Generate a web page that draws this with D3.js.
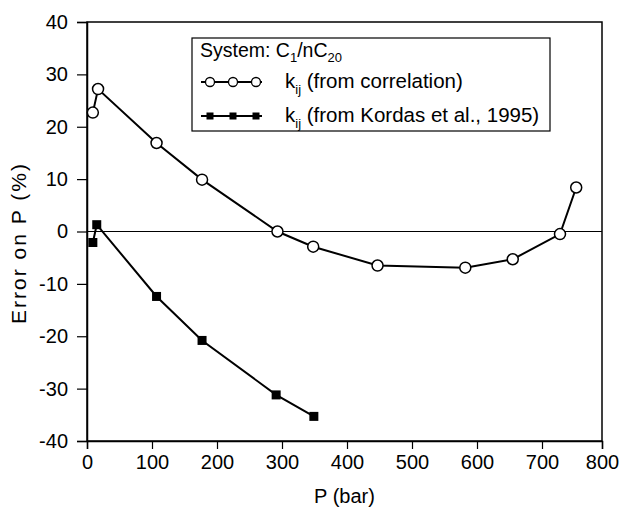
<!DOCTYPE html>
<html>
<head>
<meta charset="utf-8">
<script src="https://cdn.jsdelivr.net/npm/d3@7"></script>
<style>
  body { margin: 0; background: #fff; }
  text, tspan { font-family: "Liberation Sans", Arial, sans-serif; fill: #000; }
</style>
</head>
<body>
<script>
// data
var corrP   = [9, 17, 107, 177, 293, 348, 447, 582, 655, 730, 757];
var corrErr = [22.7, 27.2, 16.9, 9.9, 0, -2.9, -6.5, -6.9, -5.3, -0.5, 8.4];
var kordP   = [9, 15, 107, 177, 291, 349];
var kordErr = [-2.1, 1.3, -12.4, -20.8, -31.2, -35.3];
var xTicks  = [0, 100, 200, 300, 400, 500, 600, 700, 800];
var yTicks  = [-40, -30, -20, -10, 0, 10, 20, 30, 40];

var W = 621, H = 519;
var mLeft = 87, mRight = 602, mTop = 22, mBottom = 441;

var svg = d3.select("body").append("svg")
  .attr("width", W).attr("height", H);

// the last x interval of the original figure is a little shorter
var x = d3.scaleLinear().domain([0, 700, 800]).range([mLeft, 542, mRight]);
var y = d3.scaleLinear().domain([-40, 40]).range([mBottom, mTop]);

// frame
svg.append("rect")
  .attr("x", mLeft).attr("y", mTop)
  .attr("width", mRight - mLeft).attr("height", mBottom - mTop)
  .attr("fill", "none").attr("stroke", "#000").attr("stroke-width", 1.5);

// zero line
svg.append("line")
  .attr("x1", mLeft).attr("x2", mRight)
  .attr("y1", y(0)).attr("y2", y(0))
  .attr("stroke", "#000").attr("stroke-width", 1);

// axes (plain hyphen for negatives, like the original)
var fmt = function(d) { return String(d); };
var gx = svg.append("g")
  .attr("transform", "translate(0," + mBottom + ")")
  .call(d3.axisBottom(x).tickValues(xTicks).tickSize(8).tickPadding(6).tickFormat(fmt));
var gy = svg.append("g")
  .attr("transform", "translate(" + mLeft + ",0)")
  .call(d3.axisLeft(y).tickValues(yTicks).tickSize(10).tickPadding(9).tickFormat(fmt));
[gx, gy].forEach(function(g) {
  g.select(".domain").attr("stroke-width", 1.5);
  g.selectAll(".tick line").attr("stroke-width", 1.2);
  g.selectAll("text").attr("font-size", 20).attr("font-family", "Liberation Sans, Arial, sans-serif").attr("fill", "#000");
});

// axis titles
svg.append("text")
  .attr("x", (mLeft + mRight) / 2).attr("y", 503)
  .attr("text-anchor", "middle").attr("font-size", 20)
  .text("P (bar)");
svg.append("text")
  .attr("transform", "translate(26,244) rotate(-90)")
  .attr("text-anchor", "middle").attr("font-size", 21)
  .attr("textLength", 160).attr("lengthAdjust", "spacing")
  .text("Error on P (%)");

var line = d3.line()
  .x(function(d) { return x(d[0]); })
  .y(function(d) { return y(d[1]); });

var corr = d3.zip(corrP, corrErr);
var kord = d3.zip(kordP, kordErr);

svg.append("path").datum(corr).attr("d", line)
  .attr("fill", "none").attr("stroke", "#000").attr("stroke-width", 2);
svg.append("path").datum(kord).attr("d", line)
  .attr("fill", "none").attr("stroke", "#000").attr("stroke-width", 2);

svg.selectAll("circle.pt").data(corr).enter().append("circle")
  .attr("class", "pt")
  .attr("cx", function(d) { return x(d[0]); })
  .attr("cy", function(d) { return y(d[1]); })
  .attr("r", 5.5)
  .attr("fill", "#fff").attr("stroke", "#000").attr("stroke-width", 1.5);

var s = 9;
svg.selectAll("rect.pt").data(kord).enter().append("rect")
  .attr("class", "pt")
  .attr("x", function(d) { return x(d[0]) - s / 2; })
  .attr("y", function(d) { return y(d[1]) - s / 2; })
  .attr("width", s).attr("height", s)
  .attr("fill", "#000");

// legend
var lg = svg.append("g");
lg.append("rect")
  .attr("x", 192).attr("y", 38).attr("width", 358).attr("height", 93)
  .attr("fill", "#fff").attr("stroke", "#000").attr("stroke-width", 1.2);

var t = lg.append("text").attr("x", 200).attr("y", 57).attr("font-size", 19.5);
t.append("tspan").text("System: C");
t.append("tspan").attr("font-size", 13).attr("dy", 5).text("1");
t.append("tspan").attr("dy", -5).text("/nC");
t.append("tspan").attr("font-size", 13).attr("dy", 5).text("20");

function legendRow(yy, label, kind) {
  lg.append("line").attr("x1", 201).attr("x2", 262).attr("y1", yy).attr("y2", yy)
    .attr("stroke", "#000").attr("stroke-width", 2);
  [210, 233, 256].forEach(function(cx) {
    if (kind === "circle") {
      lg.append("circle").attr("cx", cx).attr("cy", yy).attr("r", 4.5)
        .attr("fill", "#fff").attr("stroke", "#000").attr("stroke-width", 1.3);
    } else {
      lg.append("rect").attr("x", cx - 3.5).attr("y", yy - 3.5).attr("width", 7).attr("height", 7)
        .attr("fill", "#000");
    }
  });
  var tx = lg.append("text").attr("x", 285).attr("y", yy + 6).attr("font-size", 20.5);
  tx.append("tspan").text("k");
  tx.append("tspan").attr("font-size", 13).attr("dy", 6).text("ij");
  tx.append("tspan").attr("dy", -6).text(" " + label);
}
legendRow(82, "(from correlation)", "circle");
legendRow(116, "(from Kordas et al., 1995)", "square");
</script>
</body>
</html>
